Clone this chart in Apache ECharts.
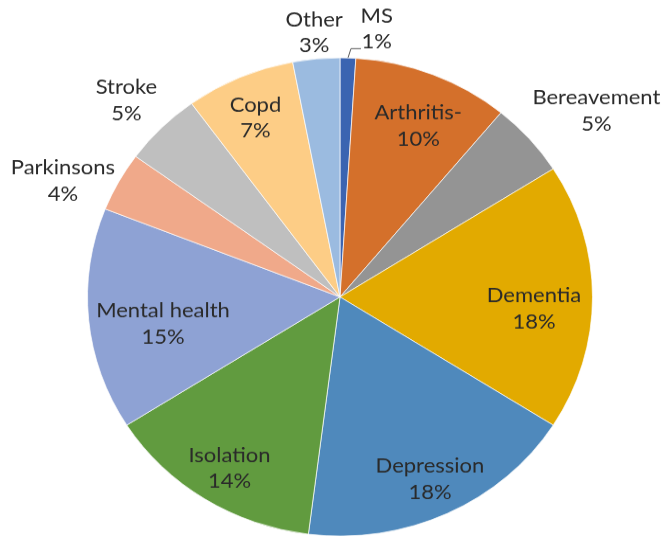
<!DOCTYPE html>
<html><head><meta charset="utf-8">
<script src="https://cdn.jsdelivr.net/npm/echarts@6/dist/echarts.min.js"></script>
<style>
html,body{margin:0;padding:0;background:#fff;overflow:hidden;}
#wrap{width:670px;height:538px;overflow:hidden;}
#chart{width:670px;height:568px;transform:scaleY(0.947);transform-origin:0 0;}
</style></head><body>
<div id="wrap"><div id="chart"></div></div>
<script>
const categories = ['MS','Arthritis-','Bereavement','Dementia','Depression','Isolation','Mental health','Parkinsons','Stroke','Copd','Other'];
const values = [1,10,5,18,18,14,15,4,5,7,3];
const colors = ['#3b64b1','#d4702b','#949494','#e2aa00','#4f89bc','#619b3f','#8ea2d4','#f0a98a','#bfbfbf','#fdcd86','#9bbbe0'];
// label placement styling: radial fraction of radius, angular nudge (deg), outside flag
const labelRadius = [1.13,0.78,1.28,0.77,0.84,0.84,0.71,1.2,1.18,0.82,1.11];
const labelNudge = [5.6,1.8,3.9,3.7,0.1,-1,-3.7,-4.9,-0.8,-0.7,0.1];
const outsideLabel = [true,false,true,false,false,false,false,true,true,false,true];
const leaderLine = [true,false,false,false,false,false,false,false,false,false,false];

const CX = 340, CY = 313.6, R = 252.5;
const total = values.reduce((a,b)=>a+b,0);
const midAngle = [];
let acc = 0;
values.forEach(v => { midAngle.push((acc + v/2) / total * 360); acc += v; });
function polar(rad, deg){ const t = deg*Math.PI/180; return [CX + rad*Math.sin(t), CY - rad*Math.cos(t)]; }

const chart = echarts.init(document.getElementById('chart'), null, {renderer:'canvas'});
chart.setOption({
  animation: false,
  backgroundColor: '#fff',
  series: [{
    type: 'pie',
    center: [CX, CY],
    radius: [0, R],
    startAngle: 90,
    clockwise: true,
    avoidLabelOverlap: false,
    data: categories.map((c,i)=>({
      name: c, value: values[i],
      itemStyle: {color: colors[i]},
      label: {position: outsideLabel[i] ? 'outside' : 'inside'},
      labelLine: {show: leaderLine[i], lineStyle:{color:'#5a5a5a', width:1}}
    })),
    itemStyle: {borderColor:'#ffffff', borderWidth:0.7},
    label: {
      show: true,
      formatter: '{b}\n{d}%',
      color: '#2a2a2a',
      fontFamily: 'Lato',
      fontSize: 22,
      lineHeight: 27.5,
      align: 'center'
    },
    labelLayout: function(p){
      const i = p.dataIndex;
      const pt = polar(labelRadius[i]*R, midAngle[i] + labelNudge[i]);
      const res = {x: pt[0], y: pt[1], align: 'center', verticalAlign: 'middle'};
      if (leaderLine[i]) {
        const p1 = polar(R, midAngle[i]);
        const p2 = polar(R + 10, midAngle[i] + 0.6);
        res.labelLinePoints = [p1, p2, [p2[0] + 10, p2[1]]];
      }
      return res;
    }
  }]
});
</script>
</body></html>
